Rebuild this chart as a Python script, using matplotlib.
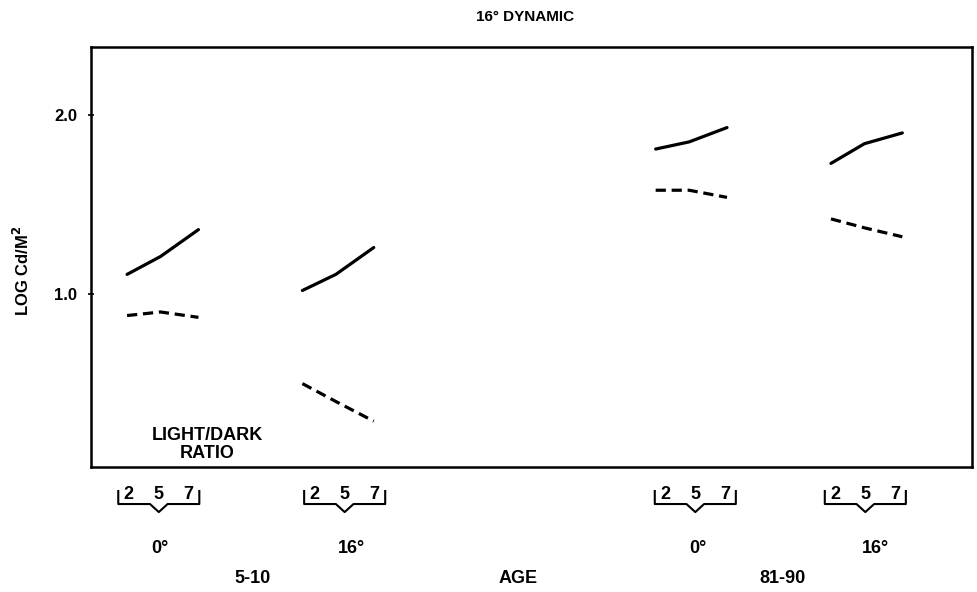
import matplotlib
matplotlib.use("Agg")
import matplotlib.pyplot as plt
from matplotlib.transforms import blended_transform_factory

plt.rcParams['font.family'] = ['Liberation Sans', 'DejaVu Sans']
plt.rcParams['font.weight'] = 'bold'

# light/dark ratio levels and the four age x angle groups
ratios = ['2', '5', '7']
ratio_pos = [0.0, 0.38, 0.81]
group_x = [0.41, 2.40, 6.41, 8.40]
bracket_x = [0.77, 2.88, 6.86, 8.79]
angle_x = [0.78, 2.96, 6.89, 8.90]
angle_labels = ['0\u00b0', '16\u00b0', '0\u00b0', '16\u00b0']
age_labels = ['5-10', 'AGE', '81-90']
age_x = [1.83, 4.85, 7.85]

# log luminance, solid = upper curve, dashed = lower curve
solid = [
    [1.11, 1.21, 1.36],
    [1.02, 1.11, 1.26],
    [1.81, 1.85, 1.93],
    [1.73, 1.84, 1.90],
]
dashed = [
    [0.88, 0.90, 0.87],
    [0.50, 0.40, 0.29],
    [1.58, 1.58, 1.54],
    [1.42, 1.37, 1.32],
]

fig = plt.figure(figsize=(9.77, 5.92), dpi=100)
ax = fig.add_axes([0.0931, 0.2111, 0.9017, 0.7095])

for gx, s, d in zip(group_x, solid, dashed):
    xs = [gx + p for p in ratio_pos]
    ax.plot(xs, s, color='black', lw=2.3, solid_capstyle='round')
    ax.plot(xs, d, color='black', lw=2.3, dashes=(3.2, 1.8))

ax.set_xlim(0, 10)
ax.set_ylim(0.034, 2.38)
ax.set_xticks([])
ax.set_yticks([1.0, 2.0])
ax.set_yticklabels(['1.0', '2.0'], fontsize=12, fontweight='bold')
ax.tick_params(axis='y', direction='inout', length=4, width=1.2, pad=8)
for sp in ax.spines.values():
    sp.set_linewidth(1.8)

fig.text(0.537, 0.971, '16\u00b0 DYNAMIC', ha='center', va='center',
         fontsize=11, fontweight='bold')
fig.text(0.0225, 0.542, 'LOG Cd/M$^{\\mathbf{2}}$', rotation=90, ha='center',
         va='center', fontsize=12, fontweight='bold')

tr = blended_transform_factory(ax.transData, fig.transFigure)
ax.text(1.32, 0.249, 'LIGHT/DARK\nRATIO', transform=tr,
        ha='center', va='center', fontsize=13, fontweight='bold', linespacing=1.1)

# brackets under the axes holding the ratio labels
y_top, y_base, y_tip = 0.1706, 0.1486, 0.135
half = 0.46
for c, ax_x, ang in zip(bracket_x, angle_x, angle_labels):
    ax.plot([c - half, c - half, c - 0.1, c, c + 0.1, c + half, c + half],
            [y_top, y_base, y_base, y_tip, y_base, y_base, y_top],
            transform=tr, color='black', lw=1.5, clip_on=False)
    for k, lab in enumerate(ratios):
        ax.text(c + (k - 1) * 0.34, 0.1655, lab, transform=tr, ha='center',
                va='center', fontsize=13, fontweight='bold')
    ax.text(ax_x, 0.0743, ang, transform=tr, ha='center', va='center',
            fontsize=13, fontweight='bold')

for x, lab in zip(age_x, age_labels):
    ax.text(x, 0.0236, lab, transform=tr, ha='center', va='center',
            fontsize=13, fontweight='bold')

fig.savefig('out.png', dpi=100)
